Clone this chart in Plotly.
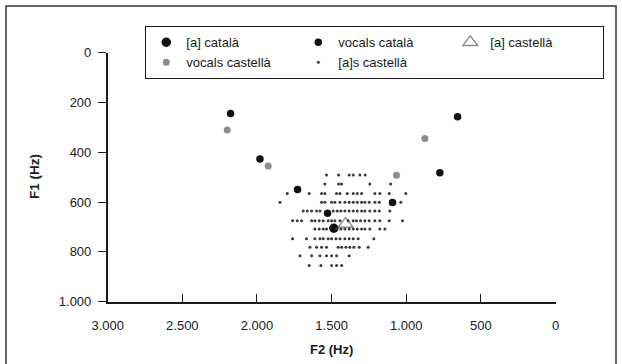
import plotly.graph_objects as go

# ---------------- data ----------------
# [a] català (mean)
a_cat_f2 = [1485]
a_cat_f1 = [705]

# vocals català
voc_cat_f2 = [2177, 1980, 1728, 1527, 1092, 775, 656]
voc_cat_f1 = [244, 427, 549, 645, 602, 482, 257]

# [a] castellà (mean)
a_cas_f2 = [1406]
a_cas_f1 = [688]

# vocals castellà
voc_cas_f2 = [2199, 1925, 1065, 875]
voc_cas_f1 = [310, 455, 492, 345]

# [a]s castellà (tokens), grouped by F1 row
as_rows = {
    491: [1534, 1453, 1382, 1355, 1311, 1275],
    527: [1545, 1453, 1433, 1244, 1105],
    565: [1797, 1650, 1567, 1545, 1467, 1444, 1395, 1355, 1328, 1299, 1210, 1177, 1114, 1003],
    601: [1846, 1567, 1545, 1500, 1478, 1444, 1411, 1382, 1355, 1328, 1299, 1277, 1248, 1210, 1181, 1036],
    636: [1690, 1663, 1634, 1601, 1578, 1489, 1462, 1438, 1411, 1382, 1355, 1328, 1299, 1277, 1244, 1210, 1181, 1110],
    675: [1761, 1730, 1701, 1634, 1612, 1583, 1556, 1523, 1500, 1478, 1444, 1389, 1355, 1333, 1306, 1277, 1248, 1210, 1177, 1114, 1025],
    708: [1612, 1583, 1556, 1534, 1467, 1438, 1411, 1382, 1355, 1328, 1299, 1277, 1244, 1177, 1143],
    747: [1761, 1668, 1612, 1578, 1556, 1523, 1500, 1471, 1444, 1411, 1382, 1355, 1322, 1217],
    781: [1645, 1601, 1567, 1534, 1456, 1433, 1404, 1378, 1351, 1315, 1255],
    815: [1712, 1634, 1578, 1534, 1500, 1467, 1382],
    855: [1650, 1572, 1500, 1467, 1433],
}
as_cas_f2 = [f2 for f1, xs in as_rows.items() for f2 in xs]
as_cas_f1 = [f1 for f1, xs in as_rows.items() for _ in xs]

x_ticks = [3000, 2500, 2000, 1500, 1000, 500, 0]
y_ticks = [0, 200, 400, 600, 800, 1000]

# ---------------- layout geometry ----------------
W, H = 622, 364
ML, MR, MT, MB = 10, 10, 10, 10
GW, GH = W - ML - MR, H - MT - MB

def px(x):
    return (x - ML) / GW

def py(y):
    return (H - MB - y) / GH

FONT = "Liberation Sans, Arial, sans-serif"
INK = "#1a1a1a"

fig = go.Figure()

fig.add_trace(go.Scatter(
    x=a_cat_f2, y=a_cat_f1, mode="markers", name="[a] català",
    marker=dict(symbol="circle", size=9.5, color="#111111"),
))
fig.add_trace(go.Scatter(
    x=voc_cat_f2, y=voc_cat_f1, mode="markers", name="vocals català",
    marker=dict(symbol="circle", size=7.5, color="#111111"),
))
fig.add_trace(go.Scatter(
    x=a_cas_f2, y=a_cas_f1, mode="markers", name="[a] castellà",
    marker=dict(symbol="triangle-up-open", size=13, color="#8a8a8a", line=dict(width=1.3)),
))
fig.add_trace(go.Scatter(
    x=voc_cas_f2, y=voc_cas_f1, mode="markers", name="vocals castellà",
    marker=dict(symbol="circle", size=7, color="#8c8c8c"),
))
fig.add_trace(go.Scatter(
    x=as_cas_f2, y=as_cas_f1, mode="markers", name="[a]s castellà",
    marker=dict(symbol="circle", size=3, color="#3a3a3a"),
))

fig.update_layout(
    width=W, height=H,
    margin=dict(l=ML, r=MR, t=MT, b=MB, autoexpand=False),
    paper_bgcolor="white", plot_bgcolor="white",
    separators=",.",
    font=dict(family=FONT, size=13, color=INK),
    xaxis=dict(
        range=[3000, 0], domain=[px(107.7), px(555.5)],
        tickvals=x_ticks, tickformat=",d", automargin=False,
        ticks="inside", ticklen=8, tickwidth=1.3, tickcolor=INK,
        showline=True, linecolor=INK, linewidth=1.5,
        showgrid=False, zeroline=False, ticklabelstandoff=11,
        tickfont=dict(size=13, color=INK),
    ),
    yaxis=dict(
        range=[1000, 0], domain=[py(301.7), py(52.7)],
        tickvals=y_ticks, tickformat=",d", automargin=False,
        ticks="outside", ticklen=8, tickwidth=1.3, tickcolor=INK,
        showline=True, linecolor=INK, linewidth=1.5,
        showgrid=False, zeroline=False, ticklabelstandoff=4,
        tickfont=dict(size=13, color=INK),
    ),
    legend=dict(
        orientation="h", x=px(145), y=py(26), xanchor="left", yanchor="top",
        bgcolor="white", bordercolor=INK, borderwidth=1.3,
        font=dict(size=13, color=INK), entrywidth=107,
        traceorder="normal",
    ),
    showlegend=True,
)

fig.add_annotation(text="<b>F2 (Hz)</b>", x=px(332), y=py(349), xref="paper", yref="paper",
                   xanchor="center", yanchor="middle",
                   showarrow=False, font=dict(size=13, color=INK))
fig.add_annotation(text="<b>F1 (Hz)</b>", x=px(34), y=py(177), xref="paper", yref="paper",
                   xanchor="center", yanchor="middle",
                   showarrow=False, textangle=-90, font=dict(size=13.5, color=INK))

fig.add_shape(type="rect", xref="paper", yref="paper",
              x0=px(6), x1=px(616), y0=py(380), y1=py(6),
              line=dict(color="#333333", width=1.5), fillcolor="rgba(0,0,0,0)", layer="below")

fig.write_html("out.html")
